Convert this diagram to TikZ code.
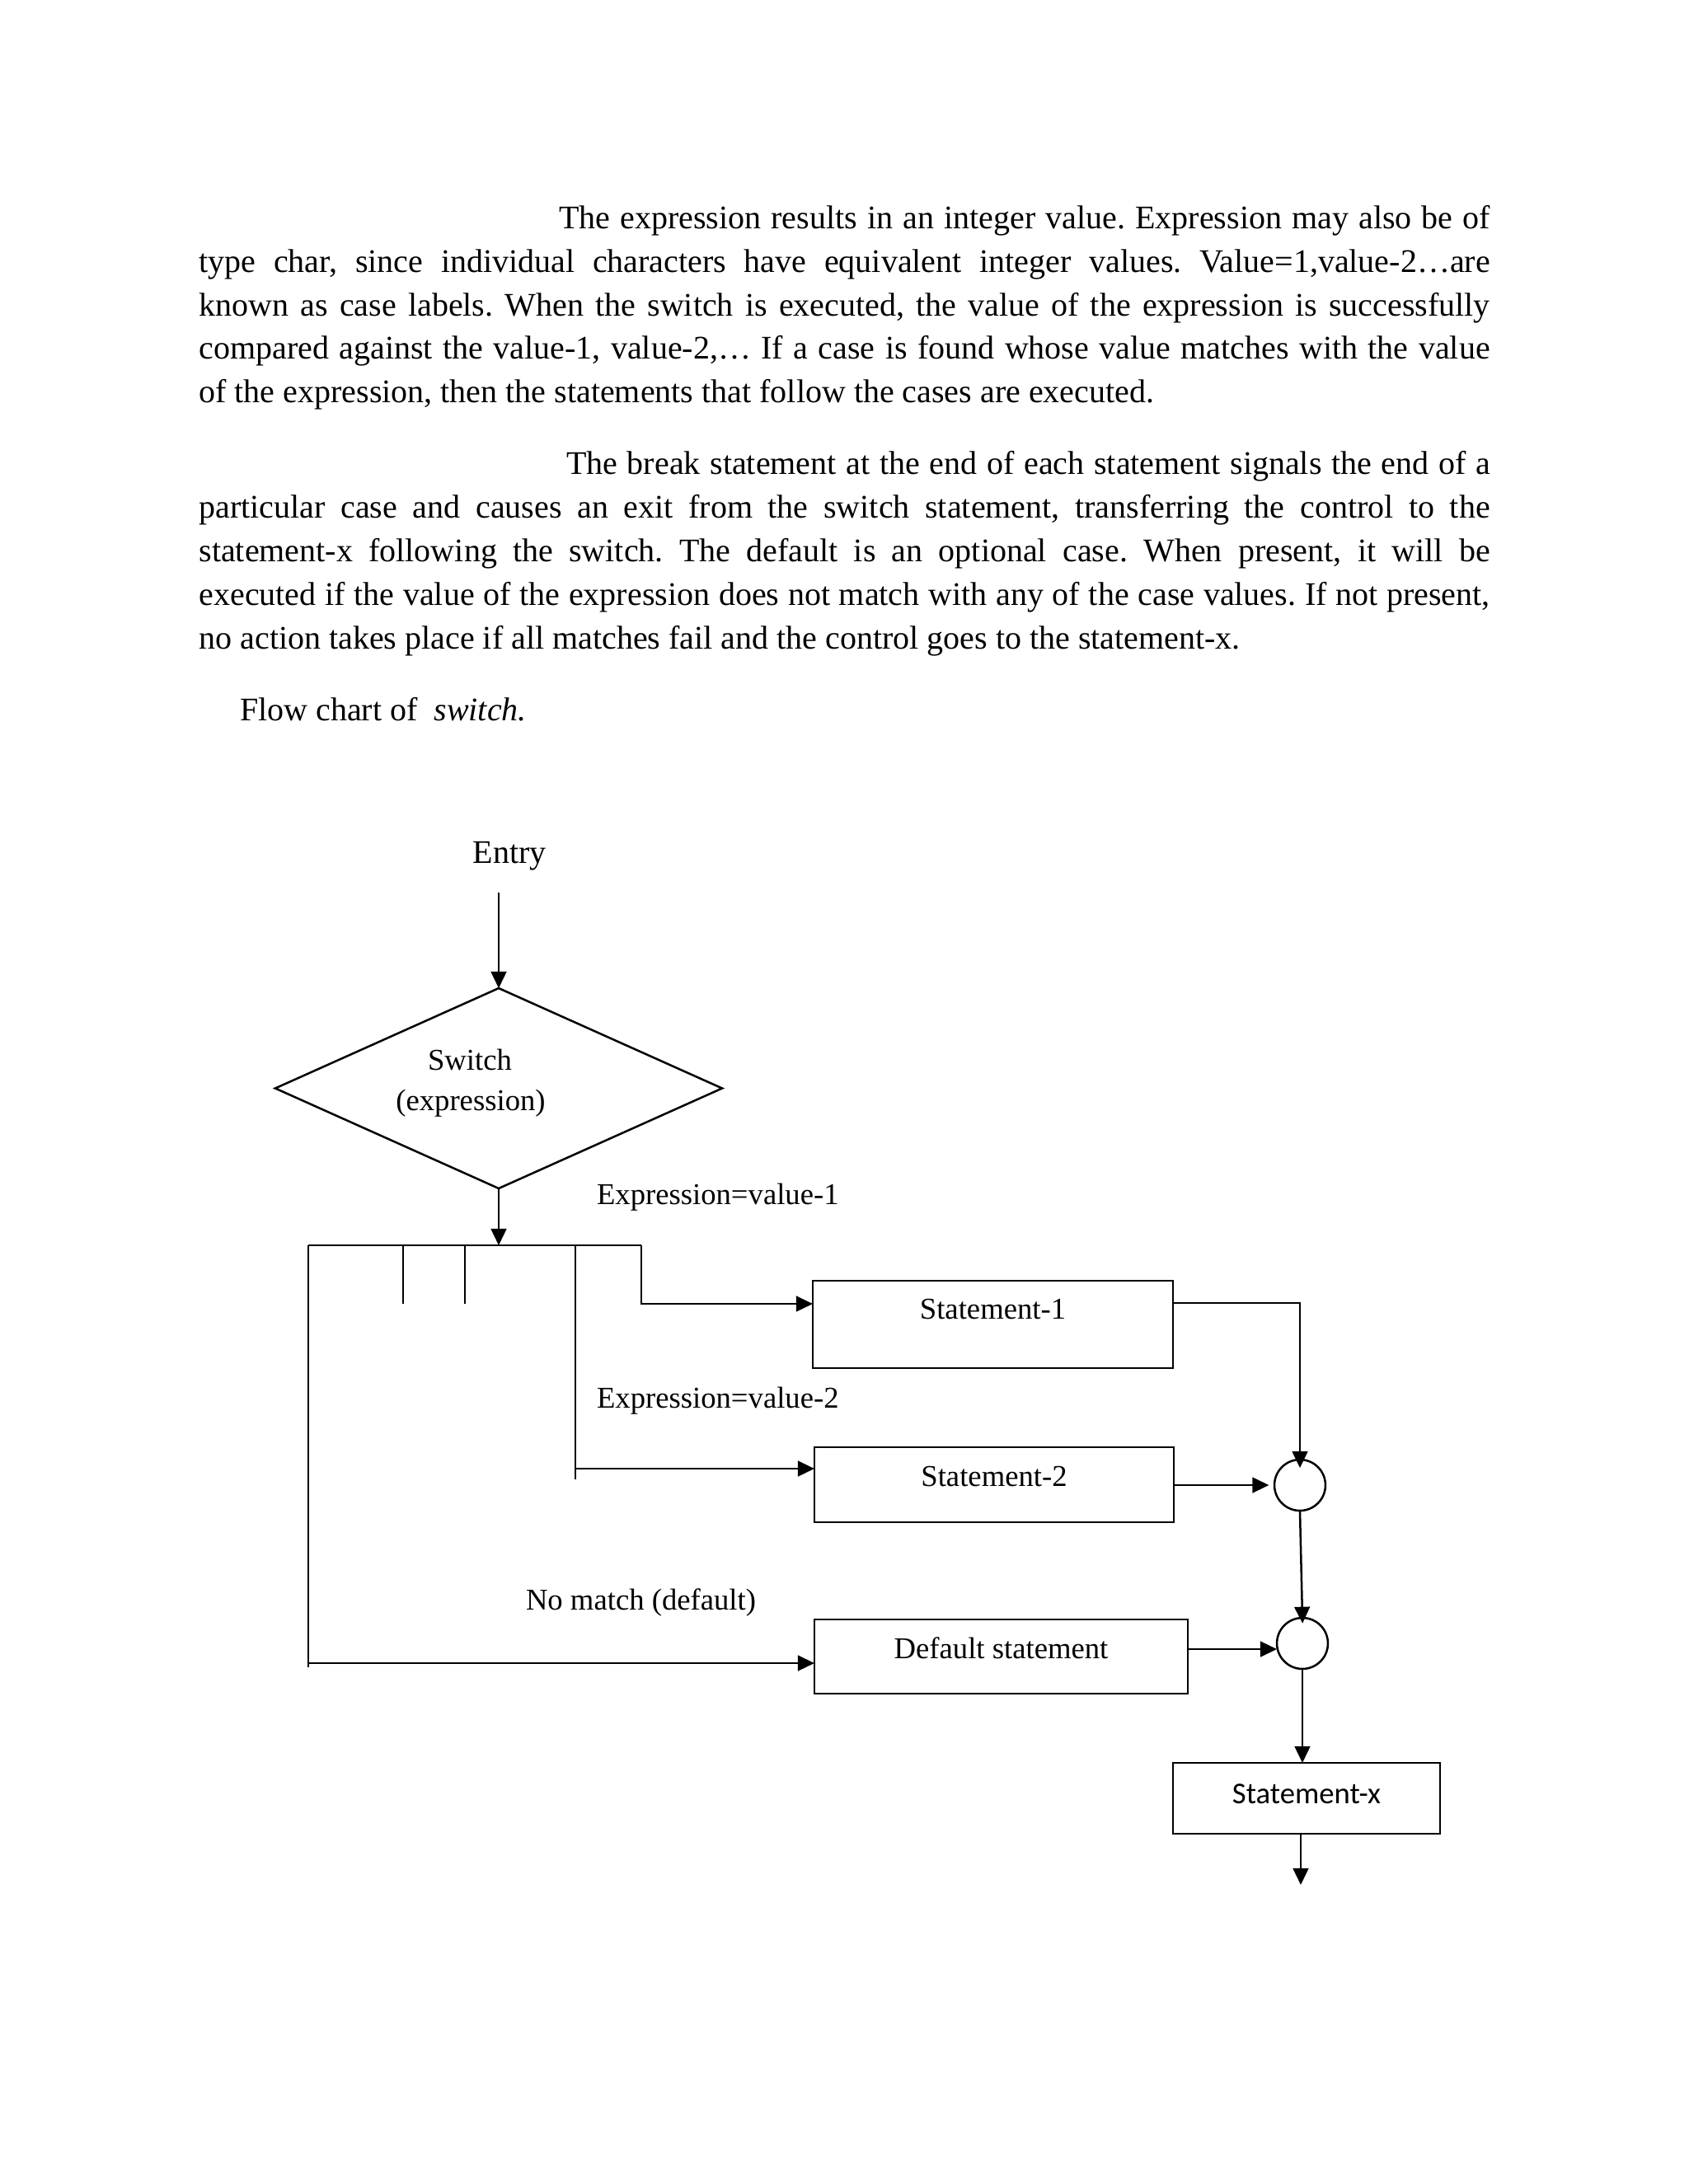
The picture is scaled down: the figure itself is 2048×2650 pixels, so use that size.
\documentclass[tikz,border=0pt]{standalone}
\usepackage{fontspec}
\setmainfont{Liberation Serif}
\newfontfamily\calibfont{Carlito}
\usetikzlibrary{arrows.meta,shapes.geometric}
\begin{document}
\frenchspacing
\begin{tikzpicture}[x=0.29883bp,y=-0.29883bp,
  bodyline/.style={font=\fontsize{12}{14}\selectfont, inner sep=0pt, outer sep=0pt, anchor=base west},
  lbl/.style={font=\fontsize{11}{13}\selectfont, inner sep=0pt, outer sep=0pt, anchor=base west},
  stmtbox/.style={draw, line width=0.75bp, rectangle, inner sep=2pt, outer sep=0pt, font=\fontsize{11}{13}\selectfont, text height=8bp},
  junc/.style={draw, circle, line width=0.75bp, minimum size=18.5bp, inner sep=0pt, outer sep=0pt},
  conn/.style={line width=0.75bp},
  arr/.style={conn, -{Triangle[length=6bp,width=5.6bp]}}]
\useasboundingbox (0,0) rectangle (2048,2650);
\fill[white] (0,0) rectangle (2048,2650);

% ---- paragraph 1 ----
\node[bodyline] (p1a) at (678,277) {\makebox[337.7bp][s]{The expression results in an integer value. Expression may also be of}};
\node[bodyline] (p1b) at (241.5,330) {\makebox[468bp][s]{type char, since individual characters have equivalent integer values. Value=1,value-2…are}};
\node[bodyline] (p1c) at (241.5,383) {\makebox[468bp][s]{known as case labels. When the switch is executed, the value of the expression is successfully}};
\node[bodyline] (p1d) at (241.5,435) {\makebox[468bp][s]{compared against the value-1, value-2,… If a case is found whose value matches with the value}};
\node[bodyline] (p1e) at (241.5,488) {of the expression, then the statements that follow the cases are executed.};

% ---- paragraph 2 ----
\node[bodyline] (p2a) at (687,575) {\makebox[335bp][s]{The break statement at the end of each statement signals the end of a}};
\node[bodyline] (p2b) at (241.5,628) {\makebox[468bp][s]{particular case and causes an exit from the switch statement, transferring the control to the}};
\node[bodyline] (p2c) at (241.5,681) {\makebox[468bp][s]{statement-x following the switch. The default is an optional case. When present, it will be}};
\node[bodyline] (p2d) at (241.5,734) {\makebox[468bp][s]{executed if the value of the expression does not match with any of the case values. If not present,}};
\node[bodyline] (p2e) at (241.5,787) {no action takes place if all matches fail and the control goes to the statement-x.};

\node[bodyline] (cap) at (291,874) {Flow chart of~ \textit{switch.}};

% ---- flowchart ----
\node[font=\fontsize{12}{14}\selectfont, inner sep=0pt, anchor=base] (entry) at (618,1047) {Entry};
\coordinate (entrytop) at (605,1083);

\node[draw, diamond, conn, minimum width=162bp, minimum height=72.6bp, inner sep=0pt, outer sep=0pt] (sw) at (605,1320.5) {};
\node[lbl, anchor=base] (swa) at (570,1298) {Switch};
\node[lbl, anchor=base] (swb) at (571,1347) {(expression)};

\coordinate (busL) at (374,1511);
\coordinate (busR) at (778,1511);
\coordinate (tk1) at (489,1511);
\coordinate (tk1e) at (489,1582);
\coordinate (tk2) at (564,1511);
\coordinate (tk2e) at (564,1582);
\coordinate (br2) at (698,1511);
\coordinate (br2e) at (698,1795);
\coordinate (c2) at (698,1782);
\coordinate (c1) at (778,1582);
\coordinate (lfe) at (374,2023);
\coordinate (c3) at (374,2018);

\node[stmtbox, minimum width=130.6bp, minimum height=31.7bp, text depth=11.6bp] (s1) at (1204.5,1607) {Statement-1};
\node[stmtbox, minimum width=130.3bp, minimum height=27.2bp, text depth=7.1bp] (s2) at (1206,1801.5) {Statement-2};
\node[stmtbox, minimum width=135.4bp, minimum height=26.9bp, text depth=6.8bp] (dflt) at (1214.5,2010) {Default statement};
\node[stmtbox, font=\calibfont\fontsize{11}{13}\selectfont, minimum width=96.8bp, minimum height=25.7bp, text depth=4.4bp] (sx) at (1585,2182) {Statement-x};

\node[junc] (j1) at (1577,1802) {};
\node[junc] (j2) at (1580,1994) {};

\node[lbl] (l1) at (724,1461) {Expression=value-1};
\node[lbl] (l2) at (724,1708) {Expression=value-2};
\node[lbl] (l3) at (638,1953) {No match (default)};

\coordinate (y1) at (0,1581);
\coordinate (yd) at (0,2001);
\coordinate (exitpt) at (1578,2287);

\draw[arr] (entrytop) -- (sw.north);
\draw[arr] (sw.south) -- (sw.south |- busL);
\draw[conn] (busL) -- (busR);
\draw[conn] (tk1) -- (tk1e);
\draw[conn] (tk2) -- (tk2e);
\draw[conn] (br2) -- (br2e);
\draw[conn] (busL) -- (lfe);
\draw[arr] (busR) -- (c1) -- (c1 -| s1.west);
\draw[arr] (c2) -- (c2 -| s2.west);
\draw[arr] (c3) -- (c3 -| dflt.west);
\draw[arr, shorten >=-3bp] (s1.east |- y1) -| (j1.north);
\draw[arr, shorten >=2bp] (s2.east |- j1.west) -- (j1.west);
\draw[arr, shorten >=-2bp] (j1.south) -- (j2.north);
\draw[arr] (dflt.east |- yd) -- (yd -| j2.west);
\draw[arr] (j2.south) -- (j2.south |- sx.north);
\draw[arr] (exitpt |- sx.south) -- (exitpt);
\end{tikzpicture}
\end{document}
